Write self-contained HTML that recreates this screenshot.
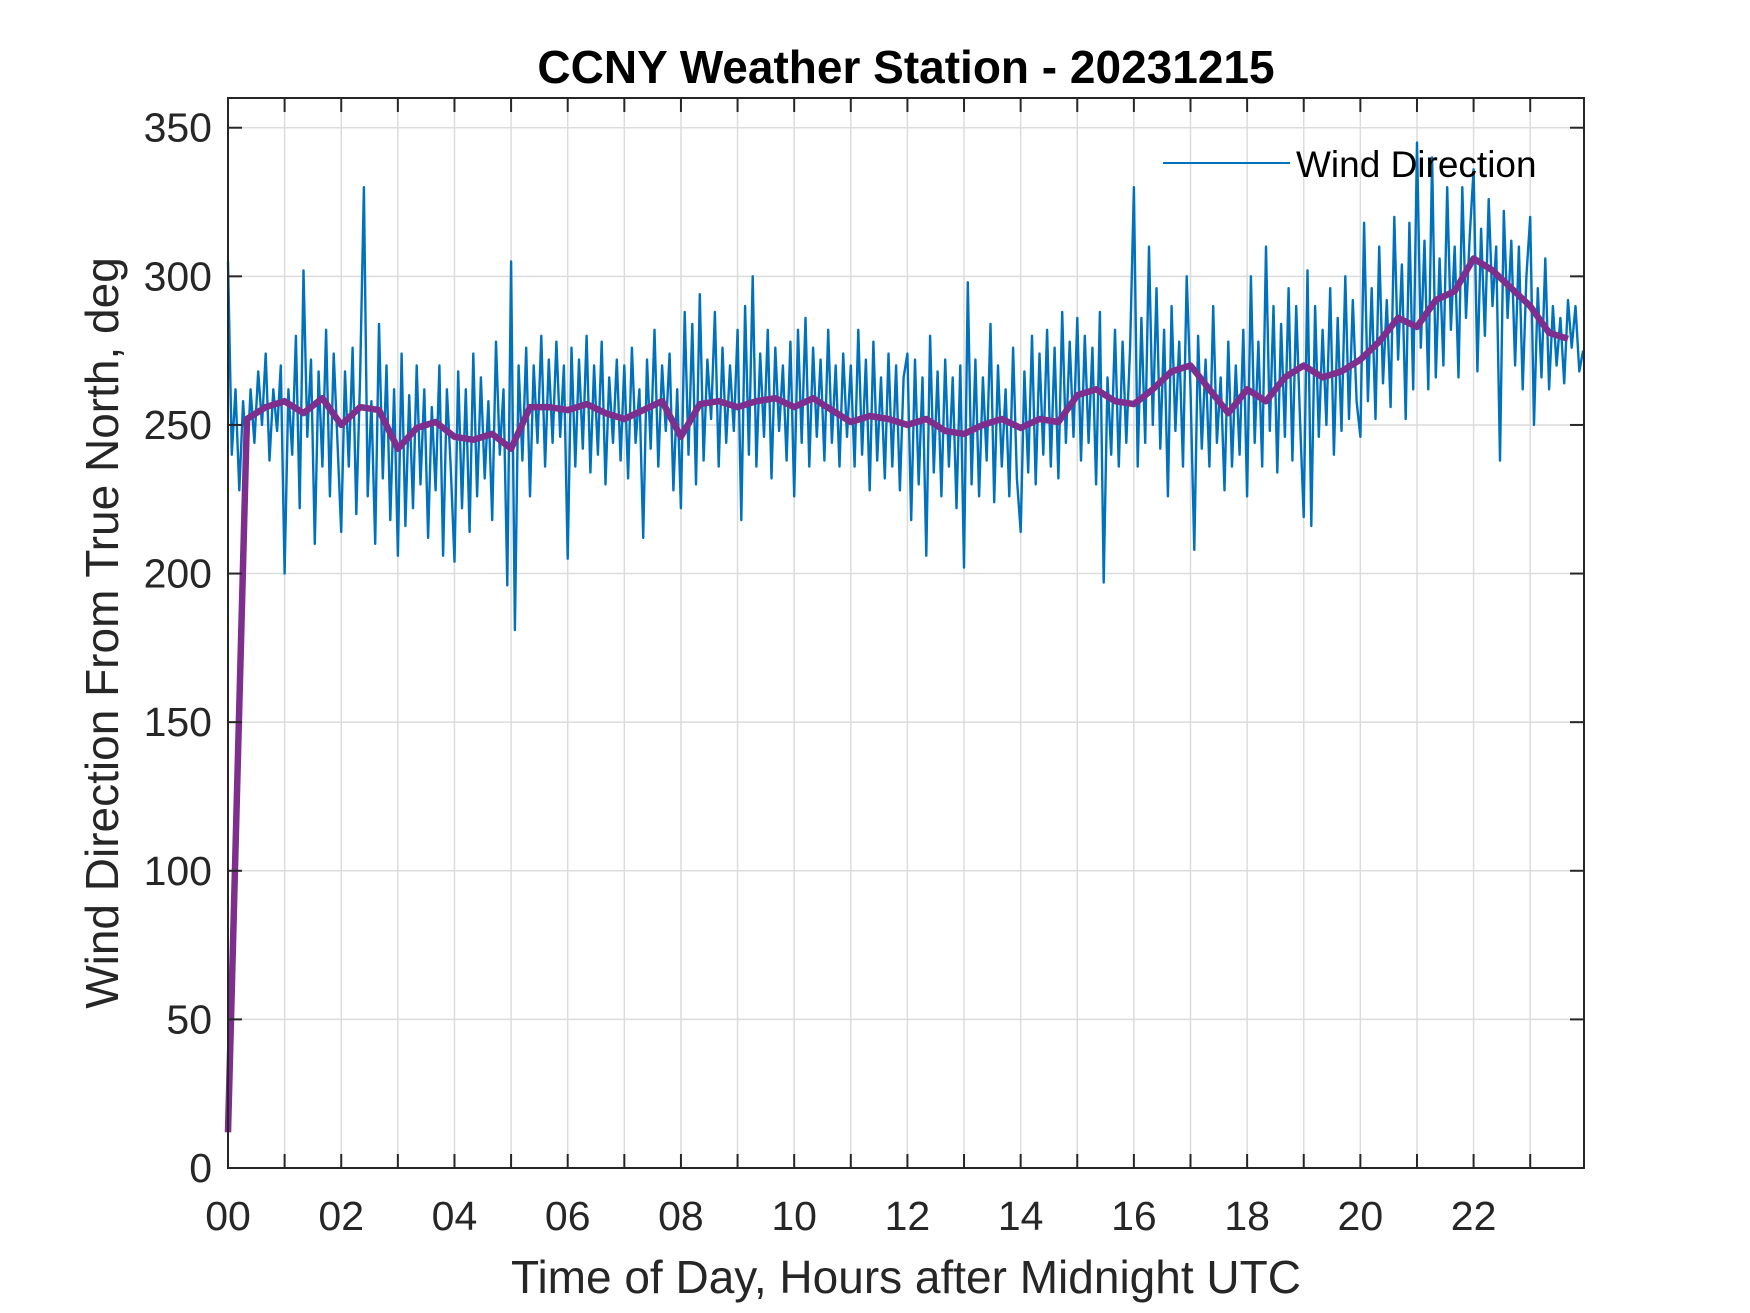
<!DOCTYPE html>
<html><head><meta charset="utf-8"><style>
html,body{margin:0;padding:0;background:#fff;}
svg{display:block;font-family:"Liberation Sans",Arial,sans-serif;}
</style></head><body>
<svg id="chart" width="1750" height="1313" viewBox="0 0 1750 1313" xmlns="http://www.w3.org/2000/svg">
<rect width="1750" height="1313" fill="#fff"/>
<g id="grid"></g>
<g id="series"></g>
<g id="axes"></g>
<text x="906" y="83" text-anchor="middle" font-size="46" font-weight="bold" fill="#000">CCNY Weather Station - 20231215</text>
<text x="906" y="1293" text-anchor="middle" font-size="46" fill="#262626">Time of Day, Hours after Midnight UTC</text>
<text transform="translate(118,633) rotate(-90)" text-anchor="middle" font-size="46" fill="#262626">Wind Direction From True North, deg</text>
<g>
<line x1="1163" y1="163" x2="1290" y2="163" stroke="#0072BD" stroke-width="2"/>
<text x="1296" y="177" font-size="37" fill="#000">Wind Direction</text>
</g>
</svg>
<script>
const xTickLabels = ["00","02","04","06","08","10","12","14","16","18","20","22"];
const yTickValues = [0,50,100,150,200,250,300,350];
const windDirection = [
305,240,262,228,258,236,262,244,268,250,274,238,262,248,270,
200,262,240,280,222,302,246,272,210,268,236,282,226,274,244,
214,268,236,276,220,266,330,226,258,210,284,232,270,218,262,
206,274,216,260,222,270,230,262,212,256,228,270,206,262,236,
204,268,222,262,214,274,226,266,232,258,218,278,240,262,196,
305,181,270,238,276,226,270,244,280,236,272,244,278,246,270,
205,276,236,272,242,280,234,270,240,278,230,266,244,272,238,
270,232,276,244,262,212,272,242,282,236,270,248,274,228,262,
222,288,240,284,230,294,238,272,252,288,236,276,244,270,248,
282,218,290,240,300,236,274,246,282,232,276,248,270,238,278,
226,282,244,286,236,276,246,272,238,282,244,270,236,274,246,
270,236,282,240,272,228,278,238,266,232,274,236,270,228,266,
274,218,272,230,266,206,280,234,268,226,272,236,266,222,270,
202,298,230,272,226,266,238,284,224,270,236,262,226,276,232,
214,268,234,280,230,274,240,282,236,276,232,288,244,278,246,
286,238,280,244,276,230,288,197,266,240,282,236,278,244,276,
330,236,286,244,310,250,296,242,282,226,290,248,278,236,300,
262,208,280,242,272,236,290,244,266,228,278,236,270,240,282,
226,300,244,278,236,310,248,290,234,284,246,296,238,290,252,
219,302,216,290,246,282,250,296,240,286,248,300,252,292,258,
246,318,258,296,252,310,264,292,256,320,272,304,252,318,262,
345,276,312,262,340,266,306,270,330,282,310,266,330,286,314,
336,268,316,280,326,290,310,238,322,286,312,270,310,262,300,
320,250,296,266,306,262,290,270,286,264,292,276,290,268,275
];
const smoothedDirection = [
12,252,256, 258,254,259, 250,256,255, 242,249,251, 246,245,247, 242,256,256,
255,257,254, 252,255,258, 246,257,258, 256,258,259, 256,259,255, 251,253,252,
250,252,248, 247,250,252, 249,252,251, 260,262,258, 257,262,268, 270,262,254,
262,258,266, 270,266,268, 272,278,286, 283,292,295, 306,302,296, 290,281,279
];
const NS="http://www.w3.org/2000/svg";
const L=228,R=1584,T=98,B=1168,XMAX=23.95,YMAX=360;
const xs=h=>L+(R-L)*h/XMAX;
const ys=v=>B-(B-T)*v/YMAX;
function mk(tag,attrs,parent){const e=document.createElementNS(NS,tag);for(const k in attrs)e.setAttribute(k,attrs[k]);parent.appendChild(e);return e;}
const grid=document.getElementById('grid'),axes=document.getElementById('axes'),series=document.getElementById('series');
for(let h=1;h<=23;h++){
  const g=mk('line',{x1:xs(h),x2:xs(h),y1:T,y2:B,stroke:'#dcdcdc','stroke-width':1.5},grid);
  
  
  const t1=mk('line',{x1:xs(h),x2:xs(h),y1:B,y2:B-14,stroke:'#262626','stroke-width':2},axes);
  
  
  const t2=mk('line',{x1:xs(h),x2:xs(h),y1:T,y2:T+14,stroke:'#262626','stroke-width':2},axes);
  
  
}
xTickLabels.forEach((lab,i)=>{
  const t=mk('text',{x:xs(i*2),y:1230,'text-anchor':'middle','font-size':41,fill:'#262626'},axes);
  t.textContent=lab;
  
  
});
yTickValues.forEach(v=>{
  if(v>0){
    const g=mk('line',{x1:L,x2:R,y1:ys(v),y2:ys(v),stroke:'#dcdcdc','stroke-width':1.5},grid);
    
    
  }
  const t1=mk('line',{x1:L,x2:L+14,y1:ys(v),y2:ys(v),stroke:'#262626','stroke-width':2},axes);
  
  
  const t2=mk('line',{x1:R,x2:R-14,y1:ys(v),y2:ys(v),stroke:'#262626','stroke-width':2},axes);
  
  
  const t=mk('text',{x:212,y:ys(v)+14,'text-anchor':'end','font-size':41,fill:'#262626'},axes);
  t.textContent=v;
  
  
});
const frame=mk('rect',{x:L,y:T,width:R-L,height:B-T,fill:'none',stroke:'#262626','stroke-width':2},axes);


const dtB=4/60;
const pb=windDirection.map((v,i)=>xs(i*dtB).toFixed(1)+','+ys(v).toFixed(1)).join(' ');
const blue=mk('polyline',{points:pb,fill:'none',stroke:'#0072BD','stroke-width':2.4,'stroke-linejoin':'round'},series);


const dtP=20/60;
const pp=smoothedDirection.map((v,i)=>xs(i*dtP).toFixed(1)+','+ys(v).toFixed(1)).join(' ');
const purple=mk('polyline',{points:pp,fill:'none',stroke:'#7E2F8E','stroke-width':6.5,'stroke-linejoin':'round'},series);


</script>
</body></html>
